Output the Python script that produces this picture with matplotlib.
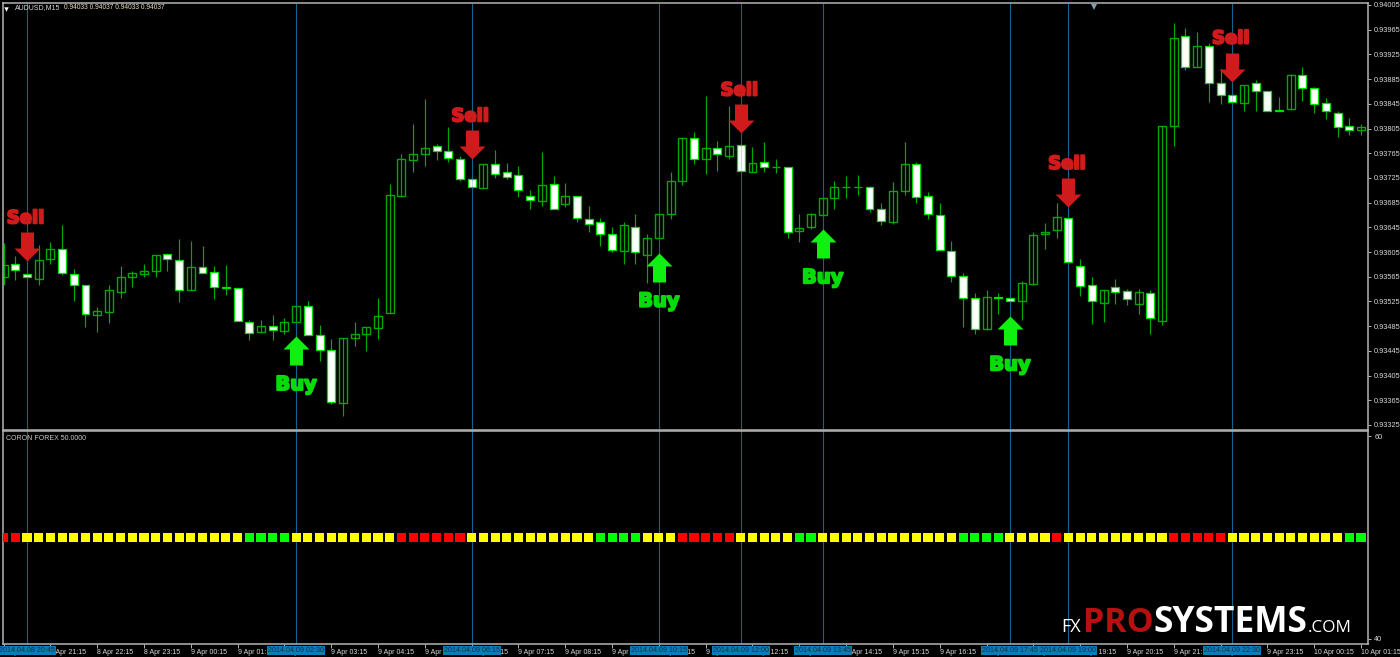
import matplotlib
matplotlib.use("Agg")
import matplotlib.pyplot as plt
import matplotlib.patheffects as pe
from matplotlib.path import Path
import numpy as np

# ---------- DATA ----------
opens = [0.93565,0.93585,0.93570,0.93561,0.93593,0.93610,0.93570,0.93551,0.93503,0.93508,0.93541,0.93565,0.93570,0.93575,0.93602,0.93592,0.93543,0.93580,0.93572,0.93548,
 0.93547,0.93492,0.93475,0.93486,0.93477,0.93492,0.93518,0.93471,0.93446,0.93360,0.93466,0.93472,0.93482,0.93506,0.93696,0.93754,0.93763,0.93776,0.93768,0.93756,
 0.93724,0.93709,0.93747,0.93735,0.93729,0.93696,0.93688,0.93715,0.93682,0.93695,0.93658,0.93653,0.93635,0.93607,0.93646,0.93600,0.93627,0.93667,0.93720,0.93789,
 0.93756,0.93774,0.93761,0.93778,0.93734,0.93750,0.93743,0.93743,0.93639,0.93646,0.93665,0.93693,0.93710,0.93711,0.93710,0.93674,0.93654,0.93704,0.93747,0.93695,
 0.93665,0.93606,0.93566,0.93530,0.93480,0.93533,0.93530,0.93525,0.93553,0.93634,0.93641,0.93660,0.93583,0.93551,0.93522,0.93548,0.93542,0.93521,0.93538,0.93494,
 0.93809,0.93954,0.93905,0.93939,0.93879,0.93860,0.93846,0.93878,0.93866,0.93835,0.93836,0.93891,0.93870,0.93846,0.93830,0.93809,0.93802]
highs = [0.93620,0.93599,0.93570,0.93616,0.93622,0.93649,0.93578,0.93551,0.93516,0.93551,0.93583,0.93574,0.93586,0.93601,0.93602,0.93626,0.93623,0.93614,0.93582,0.93584,
 0.93547,0.93495,0.93495,0.93503,0.93498,0.93517,0.93526,0.93487,0.93465,0.93466,0.93492,0.93483,0.93531,0.93715,0.93763,0.93812,0.93853,0.93780,0.93808,0.93761,
 0.93724,0.93747,0.93770,0.93749,0.93744,0.93705,0.93767,0.93728,0.93716,0.93695,0.93680,0.93660,0.93645,0.93653,0.93667,0.93634,0.93667,0.93734,0.93789,0.93800,
 0.93857,0.93785,0.93842,0.93778,0.93775,0.93783,0.93756,0.93743,0.93666,0.93668,0.93693,0.93720,0.93728,0.93730,0.93712,0.93684,0.93719,0.93783,0.93751,0.93702,
 0.93684,0.93623,0.93571,0.93538,0.93543,0.93538,0.93530,0.93558,0.93637,0.93652,0.93684,0.93660,0.93594,0.93565,0.93544,0.93561,0.93545,0.93545,0.93544,0.93809,
 0.93976,0.93968,0.93961,0.93943,0.93901,0.93860,0.93876,0.93884,0.93866,0.93856,0.93894,0.93905,0.93873,0.93854,0.93834,0.93822,0.93813]
lows = [0.93552,0.93559,0.93564,0.93552,0.93586,0.93568,0.93526,0.93483,0.93475,0.93490,0.93531,0.93549,0.93564,0.93564,0.93575,0.93524,0.93543,0.93571,0.93529,0.93536,
 0.93493,0.93462,0.93475,0.93462,0.93472,0.93492,0.93470,0.93428,0.93359,0.93339,0.93453,0.93444,0.93464,0.93506,0.93696,0.93734,0.93745,0.93754,0.93750,0.93720,
 0.93710,0.93709,0.93725,0.93724,0.93694,0.93675,0.93680,0.93675,0.93678,0.93653,0.93638,0.93614,0.93605,0.93586,0.93586,0.93555,0.93627,0.93659,0.93714,0.93747,
 0.93731,0.93737,0.93756,0.93736,0.93734,0.93735,0.93733,0.93628,0.93622,0.93643,0.93665,0.93675,0.93692,0.93697,0.93670,0.93648,0.93650,0.93698,0.93685,0.93659,
 0.93608,0.93556,0.93484,0.93472,0.93478,0.93505,0.93525,0.93495,0.93551,0.93610,0.93628,0.93589,0.93534,0.93489,0.93492,0.93521,0.93520,0.93505,0.93472,0.93487,
 0.93776,0.93899,0.93905,0.93848,0.93844,0.93848,0.93833,0.93833,0.93833,0.93833,0.93835,0.93850,0.93830,0.93820,0.93792,0.93795,0.93795]
closes = [0.93584,0.93576,0.93564,0.93592,0.93610,0.93571,0.93551,0.93504,0.93509,0.93543,0.93565,0.93571,0.93575,0.93601,0.93593,0.93544,0.93581,0.93571,0.93548,0.93547,
 0.93493,0.93474,0.93485,0.93478,0.93492,0.93517,0.93470,0.93446,0.93362,0.93466,0.93472,0.93483,0.93502,0.93697,0.93755,0.93763,0.93774,0.93768,0.93758,0.93724,
 0.93710,0.93747,0.93732,0.93726,0.93705,0.93689,0.93714,0.93675,0.93695,0.93660,0.93650,0.93634,0.93609,0.93649,0.93605,0.93627,0.93667,0.93720,0.93789,0.93755,
 0.93773,0.93763,0.93777,0.93736,0.93749,0.93743,0.93743,0.93637,0.93644,0.93667,0.93693,0.93711,0.93710,0.93711,0.93675,0.93655,0.93704,0.93747,0.93694,0.93667,
 0.93608,0.93566,0.93531,0.93480,0.93532,0.93530,0.93525,0.93555,0.93632,0.93638,0.93662,0.93589,0.93550,0.93525,0.93543,0.93541,0.93529,0.93540,0.93498,0.93809,
 0.93952,0.93905,0.93938,0.93878,0.93859,0.93848,0.93876,0.93865,0.93833,0.93834,0.93892,0.93871,0.93844,0.93833,0.93808,0.93802,0.93808]

bars = list(range(len(opens)))

signal_codes = ("RR" "YYYYYYYYYYYYYYYYYYY" "GGGG" "YYYYYYYYY" "RRRRRR" "YYYYYYYYYYY" "GGGG" "YYY" "RRRRR"
                "YYYYY" "GG" "YYYYYYYYYYYY" "GGGG" "YYYY" "R" "YYYYYYYYY" "RRRRR" "YYYYYYYYYY" "GG")
signal_level = 50.0

sell_bars = [2, 40, 63, 91, 105]
sell_prices = [0.93590, 0.93755, 0.93797, 0.93678, 0.93881]
buy_bars = [25, 56, 70, 86]
buy_prices = [0.93469, 0.93604, 0.93642, 0.93501]

event_bars = [2, 25, 40, 56, 63, 70, 86, 91, 105]
event_labels = ["2014.04.08 20:45", "2014.04.09 02:30", "2014.04.09 06:15", "2014.04.09 10:15",
                "2014.04.09 12:00", "2014.04.09 13:45", "2014.04.09 17:45", "2014.04.09 19:00",
                "2014.04.09 22:30"]

price_ticks = [0.94005,0.93965,0.93925,0.93885,0.93845,0.93805,0.93765,0.93725,0.93685,
               0.93645,0.93605,0.93565,0.93525,0.93485,0.93445,0.93405,0.93365,0.93325]
time_tick_bars = [0,4,8,12,16,20,24,28,32,36,40,44,48,52,56,60,64,68,72,76,80,84,88,92,96,100,104,108,112,116]
time_tick_labels = ["8 Apr 20:15","8 Apr 21:15","8 Apr 22:15","8 Apr 23:15","9 Apr 00:15","9 Apr 01:15",
                    "9 Apr 02:15","9 Apr 03:15","9 Apr 04:15","9 Apr 05:15","9 Apr 06:15","9 Apr 07:15",
                    "9 Apr 08:15","9 Apr 09:15","9 Apr 10:15","9 Apr 11:15","9 Apr 12:15","9 Apr 13:15",
                    "9 Apr 14:15","9 Apr 15:15","9 Apr 16:15","9 Apr 17:15","9 Apr 18:15","9 Apr 19:15",
                    "9 Apr 20:15","9 Apr 21:15","9 Apr 22:15","9 Apr 23:15","10 Apr 00:15","10 Apr 01:15"]

# ---------- STYLE ----------
W, H = 1400, 657
SMALL = "Liberation Sans"
GRID = "#b4b4b4"
LINE = "#10628f"
plt.rcParams["font.family"] = [SMALL, "DejaVu Sans"]
fig = plt.figure(figsize=(W / 100, H / 100), dpi=100, facecolor="black")

def rect(l, t, r, b):
    return [l / W, 1 - b / H, (r - l) / W, (b - t) / H]

ax1 = fig.add_axes(rect(3, 3, 1368, 429.5), facecolor="black")
ax2 = fig.add_axes(rect(3, 431, 1368, 644), facecolor="black")
for ax in (ax1, ax2):
    ax.set_xlim(-0.05, 116.6)
    for s in ax.spines.values():
        s.set_color(GRID)
        s.set_linewidth(1.1)
    ax.yaxis.tick_right()
    ax.tick_params(axis="y", length=2, width=0.7, color=GRID, labelcolor="#d8d8d8", labelsize=5.3, pad=2.5)
ax1.set_ylim(0.933177, 0.940082)
ax2.set_ylim(39.5, 60.54)

ax1.set_xticks([])
ax1.set_yticks(price_ticks, [f"{p:.5f}" for p in price_ticks])
ax2.set_yticks([60, 40], ["60", "40"])
ax2.set_xticks(time_tick_bars, time_tick_labels)
ax2.tick_params(axis="x", length=3, width=0.7, color=GRID, labelcolor="#d8d8d8", labelsize=5.0, pad=0.3)
for lab in ax2.get_xticklabels():
    lab.set_ha("left")

# ---------- event lines ----------
for ax in (ax1, ax2):
    for b in event_bars:
        ax.axvline(b, color=LINE, lw=0.8, zorder=1)

# ---------- candles ----------
o, h, l, c = map(np.array, (opens, highs, lows, closes))
x = np.array(bars)
ax1.vlines(x, l, h, color="#00aa00", lw=0.85, zorder=2)
up = c >= o
ax1.bar(x[up], (c - o)[up], bottom=o[up], width=0.68, facecolor="none", edgecolor="#00a800", linewidth=1.0, zorder=2.2)
ax1.bar(x[~up], (c - o)[~up], bottom=o[~up], width=0.68, facecolor="white", edgecolor="#00e000", linewidth=0.9, zorder=2.2)
for b in event_bars:
    ax1.axvline(b, color=LINE, lw=0.8, alpha=0.22, zorder=3)

# ---------- signals ----------
down_verts = [(0, 0), (13, 13), (6.5, 13), (6.5, 29), (-6.5, 29), (-6.5, 13), (-13, 13), (0, 0)]
down_arrow = Path(down_verts, closed=True)
up_arrow = Path([(vx, -vy) for vx, vy in down_verts], closed=True)
ax1.plot(sell_bars, sell_prices, ls="none", marker=down_arrow, ms=41.76, mfc="#cf1b1b", mew=0, zorder=5)
ax1.plot(buy_bars, buy_prices, ls="none", marker=up_arrow, ms=41.76, mfc="#10f010", mew=0, zorder=5)
for b, p in zip(sell_bars, sell_prices):
    ax1.annotate("Sell", (b, p), xytext=(-1.5, 38), textcoords="offset pixels", ha="center", va="baseline",
                 fontsize=13, family="DejaVu Sans", weight="bold", color="#cf1b1b", zorder=6,
                 path_effects=[pe.withStroke(linewidth=1.4, foreground="#cf1b1b")])
for b, p in zip(buy_bars, buy_prices):
    ax1.annotate("Buy", (b, p), xytext=(0, -54), textcoords="offset pixels", ha="center", va="baseline",
                 fontsize=14, family="DejaVu Sans", weight="bold", color="#08dc08", zorder=6,
                 path_effects=[pe.withStroke(linewidth=1.4, foreground="#08dc08")])

# ---------- indicator strip ----------
palette = {"R": "#ff0000", "Y": "#ffff00", "G": "#00ff00"}
ax2.scatter(bars, [signal_level] * len(bars), marker="s", s=43, linewidths=0,
            c=[palette[k] for k in signal_codes], zorder=4)

# ---------- axis highlight labels ----------
for b, t in zip(event_bars, event_labels):
    ax2.annotate(t, (b, 0), xycoords=("data", "axes fraction"), xytext=(0, -6.3), textcoords="offset pixels",
                 ha="center", va="center", fontsize=5.1, color="#10303f", annotation_clip=False, zorder=8,
                 bbox=dict(boxstyle="square,pad=0.15", fc="#0a7cb6", ec="none"))

# ---------- header texts ----------
def px_text(px, py, s, **kw):
    return fig.text(px / W, 1 - py / H, s, **kw)

px_text(15, 7.5, "AUDUSD,M15", fontsize=5.0, color="#d8d8d8", va="center")
px_text(64, 7.5, "0.94033 0.94037 0.94033 0.94037", fontsize=4.8, color="#e8dcc0", va="center")
px_text(6, 438, "CORON FOREX 50.0000", fontsize=5.0, color="#c8c8c8", va="center")
ax1.plot([0.0025], [0.99 - 0.0035], transform=ax1.transAxes, ls="none", marker="v", ms=3.2, mfc="white", mew=0, zorder=7)
ax1.plot([93.2], [0.99], transform=ax1.get_xaxis_transform(), ls="none", marker="v", ms=5, mfc="#7f9db0", mew=0, zorder=7)

# ---------- watermark ----------
px_text(1061, 632, "FX", fontsize=13, family="Open Sans", color="white", va="baseline")
px_text(1083, 632, "PRO", fontsize=24.5, family="Open Sans", weight="bold", color="#b81010", va="baseline", zorder=9)
px_text(1153, 632, "SYSTEMS", fontsize=25.5, family="Open Sans", weight="bold", color="white", va="baseline", zorder=9)
px_text(1308, 632, ".COM", fontsize=12.3, family="Open Sans", color="white", va="baseline")

fig.savefig("out.png", dpi=100, facecolor="black")
